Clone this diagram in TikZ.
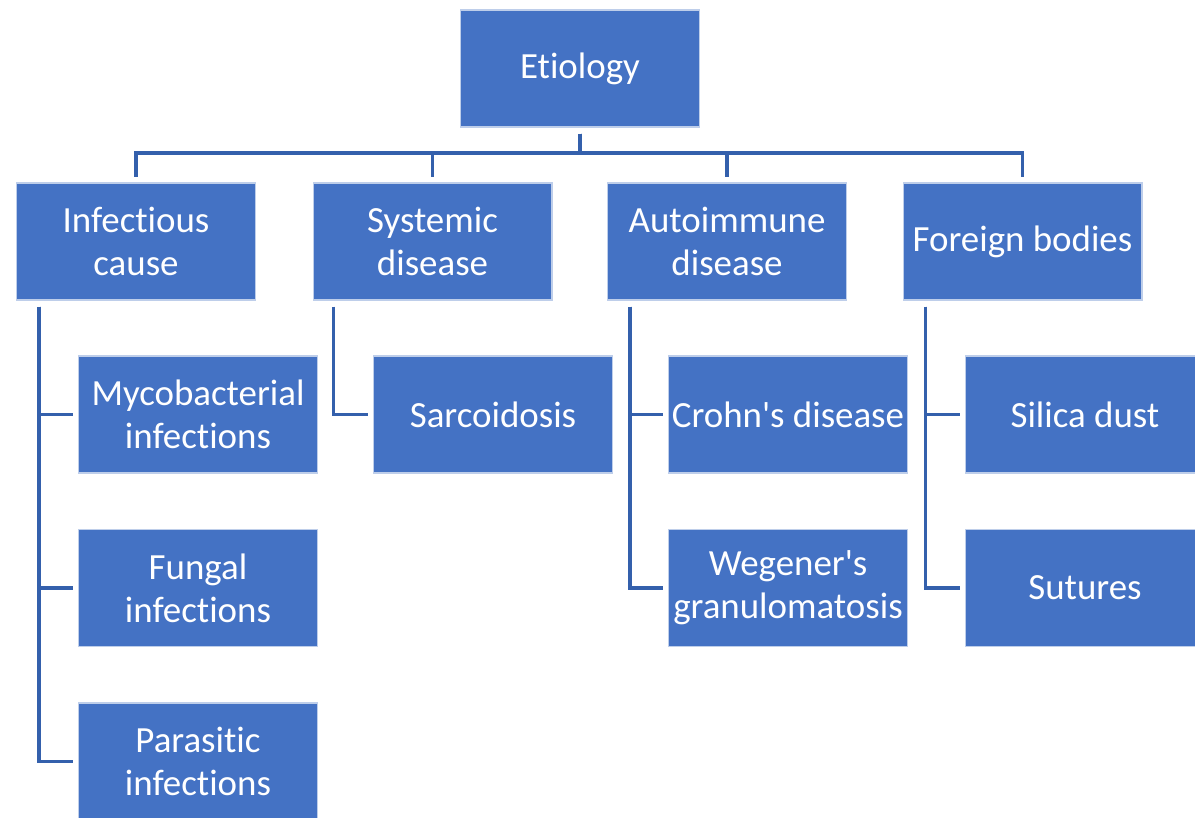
\documentclass[tikz,border=0pt]{standalone}
\usepackage{fontspec}
\setmainfont{Carlito}[Ligatures={NoCommon,TeXOff}]
\usepackage{xcolor}
\definecolor{boxblue}{HTML}{4472C4}
\definecolor{linkblue}{HTML}{3460AC}

\begin{document}
\begin{tikzpicture}[x=0.02cm,y=-0.02cm,
    box/.style={fill=boxblue, draw=white!65!boxblue, line width=0.6pt, text=white,
                minimum width=4.78cm, minimum height=2.34cm, inner sep=0pt,
                align=center, font=\fontsize{21}{24.5}\selectfont},
    link/.style={draw=linkblue, line width=2.2pt, shorten <=0.12cm, shorten >=0.1cm}]
                \useasboundingbox (0,0) rectangle (1195,817);

                \node[box] (etiology) at (580,68.5) {Etiology};

                \node[box] (infect)  at (136,241.5)  {Infectious\\cause};
                \node[box] (system)  at (432.5,241.5) {Systemic\\disease};
                \node[box] (autoimm) at (727,241.5)  {Autoimmune\\disease};
                \node[box] (foreign) at (1022.5,241.5) {Foreign bodies};

                \node[box] (myco)    at (198,414.5) {Mycobacterial\\infections};
                \node[box] (fungal)  at (198,588)   {Fungal\\infections};
                \node[box] (parasit) at (198,761.5) {Parasitic\\infections};

                \node[box] (sarc)    at (493,414.5) {Sarcoidosis};

                \node[box] (crohn)   at (788,414.5) {Crohn's disease};
                \node[box] (wegener) at (788,588)   {Wegener's\\granulomatosis};

                \node[box] (silica)  at (1085,414.5) {Silica dust};
                \node[box] (sutures) at (1085,588)   {Sutures};

                % bus below the root
                \coordinate (bus) at (580,153);
                \foreach \n in {infect,system,autoimm,foreign}
                    \draw[link] (etiology.south) -- (etiology.south |- bus) -| (\n.north);

                % side branches
                \foreach \n in {myco,fungal,parasit}
                    \draw[link] ([xshift=0.46cm]infect.south west) |- (\n.west);
                \draw[link] ([xshift=0.42cm]system.south west) |- (sarc.west);
                \foreach \n in {crohn,wegener}
                    \draw[link] ([xshift=0.46cm]autoimm.south west) |- (\n.west);
                \foreach \n in {silica,sutures}
                    \draw[link] ([xshift=0.46cm]foreign.south west) |- (\n.west);
            \end{tikzpicture}
\end{document}
